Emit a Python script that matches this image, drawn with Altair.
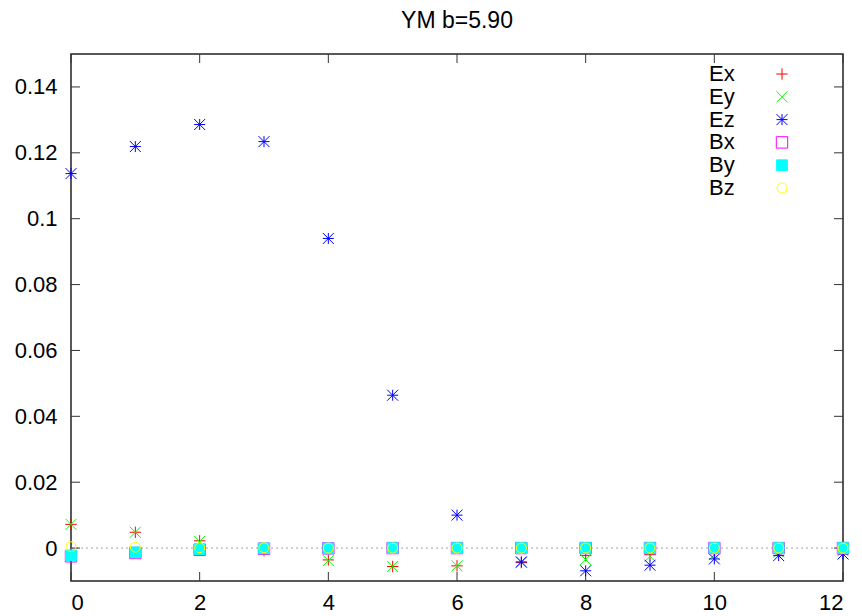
import altair as alt
import pandas as pd

# ---------------- data ----------------
x_vals = list(range(13))
series = ["Ex", "Ey", "Ez", "Bx", "By", "Bz"]

ex = [0.0072, 0.0048, 0.0022, -0.0008, -0.0036, -0.0056, -0.0054, -0.0044, -0.0023, -0.0020, -0.0015, -0.0010, -0.0006]
ey = [0.0072, 0.0048, 0.0020, -0.0005, -0.0038, -0.0056, -0.0054, -0.0044, -0.0035, -0.0025, -0.0020, -0.0012, -0.0008]
ez = [0.1137, 0.1219, 0.1286, 0.1234, 0.0940, 0.0464, 0.0100, -0.0042, -0.0069, -0.0052, -0.0033, -0.0023, -0.0018]
bx = [-0.0025, -0.0015, -0.0005, -0.0002, -0.0001, 0.0, 0.0, 0.0, 0.0, 0.0, 0.0, 0.0, 0.0]
by = [-0.0022, -0.0013, -0.0003, -0.0001, -0.0001, 0.0, 0.0, 0.0, 0.0, 0.0, 0.0, 0.0, 0.0]
bz = [0.0004, 0.0003, 0.0001, 0.0001, 0.0, 0.0, 0.0, 0.0, 0.0, 0.0, 0.0, 0.0, 0.0]
values = [ex, ey, ez, bx, by, bz]

x_ticks = [0, 2, 4, 6, 8, 10, 12]
y_ticks = [0, 0.02, 0.04, 0.06, 0.08, 0.1, 0.12, 0.14]
title_text = "YM b=5.90"

# ---------------- styles ----------------
PLUS = "M-1,0L1,0M0,-1L0,1"
CROSS = "M-1,-1L1,1M-1,1L1,-1"
STAR = "M-1,0L1,0M0,-1L0,1M-1,-1L1,1M-1,1L1,-1"
shapes = [PLUS, CROSS, STAR, "square", "square", "circle"]
colors = ["#ff0000", "#00ff00", "#0000ff", "#ff00ff", "#00ffff", "#ffff00"]
fills = ["transparent", "transparent", "transparent", "transparent", "#00ffff", "transparent"]
sizes = [130, 121, 121, 130, 115, 100]

FONT = "Liberation Sans"
W, H = 772, 527

xs = alt.Scale(domain=[0, 12], nice=False, zero=False)
ys = alt.Scale(domain=[-0.01, 0.15], nice=False, zero=False)
X = alt.X("x:Q", scale=xs, title=None, axis=alt.Axis(values=x_ticks, labelPadding=11))
Y = alt.Y("y:Q", scale=ys, title=None, axis=alt.Axis(values=y_ticks, format="~g", labelPadding=14))

layers = []

# zero line
layers.append(
    alt.Chart(pd.DataFrame({"y": [0.0]}))
    .mark_rule(color="#a0a0a0", strokeDash=[2, 3], strokeWidth=1)
    .encode(y=Y)
)

# inward ticks (mirrored)
xt = pd.DataFrame({"x": x_ticks})
yt = pd.DataFrame({"y": y_ticks})
tick_color = "#333333"
layers.append(alt.Chart(xt).mark_rule(color=tick_color).encode(x=X, y=alt.value(H), y2=alt.value(H - 9)))
layers.append(alt.Chart(xt).mark_rule(color=tick_color).encode(x=X, y=alt.value(0), y2=alt.value(9)))
layers.append(alt.Chart(yt).mark_rule(color=tick_color).encode(y=Y, x=alt.value(0), x2=alt.value(9)))
layers.append(alt.Chart(yt).mark_rule(color=tick_color).encode(y=Y, x=alt.value(W), x2=alt.value(W - 9)))

# data points
for i, s in enumerate(series):
    d = pd.DataFrame({"x": x_vals, "y": values[i]})
    layers.append(
        alt.Chart(d)
        .mark_point(shape=shapes[i], size=sizes[i], stroke=colors[i], fill=fills[i],
                    strokeWidth=1, opacity=1, fillOpacity=1, strokeOpacity=1)
        .encode(x=X, y=Y)
    )

# manual legend (label left, symbol right)
for i, s in enumerate(series):
    ly = 20 + 22.8 * i
    ld = pd.DataFrame({"label": [s]})
    layers.append(
        alt.Chart(ld)
        .mark_text(align="left", baseline="middle", font=FONT, fontSize=22, color="black")
        .encode(text="label:N", x=alt.value(638), y=alt.value(ly))
    )
    layers.append(
        alt.Chart(ld)
        .mark_point(shape=shapes[i], size=sizes[i], stroke=colors[i], fill=fills[i],
                    strokeWidth=1, opacity=1, fillOpacity=1, strokeOpacity=1)
        .encode(x=alt.value(711), y=alt.value(ly))
    )

chart = (
    alt.layer(*layers)
    .properties(
        width=W,
        height=H,
        padding={"left": 71, "top": 54, "right": 19, "bottom": 35},
        autosize=alt.AutoSizeParams(type="none"),
        title=alt.Title(title_text, font=FONT, fontSize=23, fontWeight="normal",
                        color="black", anchor="middle", offset=21),
        background="white",
    )
    .configure_view(stroke="#222222", strokeWidth=1.5)
    .configure_axis(domain=False, ticks=False, tickSize=0, grid=False,
                    labelFont=FONT, labelFontSize=22, labelColor="black")
)

chart.save("out.html", embed_options={"renderer": "svg", "actions": False})
